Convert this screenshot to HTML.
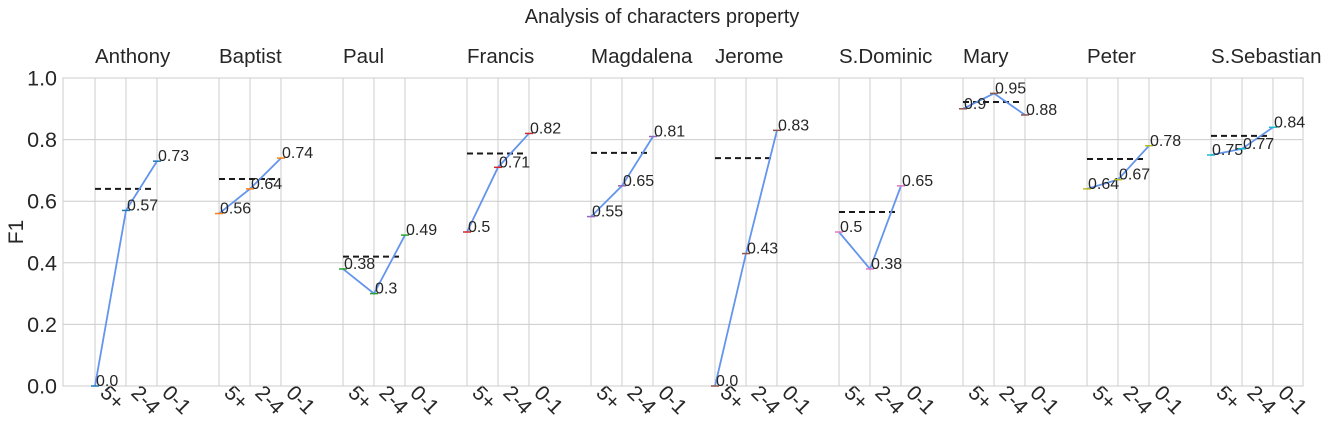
<!DOCTYPE html>
<html><head><meta charset="utf-8"><style>
html,body{margin:0;padding:0;background:#fff;}
svg{display:block;font-family:"Liberation Sans","DejaVu Sans",sans-serif;}
</style></head><body>
<svg id="chart" width="1325" height="432">
<text x="662" y="23" text-anchor="middle" font-size="20" fill="#262626">Analysis of characters property</text>
<text transform="translate(23,232) rotate(-90)" text-anchor="middle" font-size="21" fill="#262626">F1</text>
<g id="grid"></g><g id="marks"></g>
</svg>
<script>
const groups=["Anthony","Baptist","Paul","Francis","Magdalena","Jerome","S.Dominic","Mary","Peter","S.Sebastian"];
const cats=["5+","2-4","0-1"];
const v5=[0,0.56,0.38,0.5,0.55,0,0.5,0.9,0.64,0.75];
const v24=[0.57,0.64,0.3,0.71,0.65,0.43,0.38,0.95,0.67,0.77];
const v01=[0.73,0.74,0.49,0.82,0.81,0.83,0.65,0.88,0.78,0.84];
const refs=[0.64,0.672,0.42,0.755,0.757,0.74,0.565,0.922,0.737,0.812];
const labels5=["0.0","0.56","0.38","0.5","0.55","0.0","0.5","0.9","0.64","0.75"];
const labels24=["0.57","0.64","0.3","0.71","0.65","0.43","0.38","0.95","0.67","0.77"];
const labels01=["0.73","0.74","0.49","0.82","0.81","0.83","0.65","0.88","0.78","0.84"];
const yTicks=[0,0.2,0.4,0.6,0.8,1.0];
const colors=["#1f77b4","#ff7f0e","#2ca02c","#d62728","#9467bd","#8c564b","#e377c2","#8c564b","#bcbd22","#17becf"];
const NS="http://www.w3.org/2000/svg";
const L=63,R=1303,T=78,B=386;
const y=v=>B-(B-T)*v;
const x=(g,k)=>95+124*g+31*k;
const grid=document.getElementById('grid'),marks=document.getElementById('marks');
function el(p,t,a){const e=document.createElementNS(NS,t);for(const k in a)e.setAttribute(k,a[k]);p.appendChild(e);return e;}
yTicks.forEach(t=>{
  const l=el(grid,'line',{x1:L,x2:R,y1:y(t),y2:y(t),stroke:'#cccccc','stroke-width':1});
  
  
  const tx=el(grid,'text',{x:57,y:y(t)+7.5,'text-anchor':'end','font-size':21.5,fill:'#262626'});
  tx.textContent=t.toFixed(1);
  
  
});
groups.forEach((g,gi)=>{
  cats.forEach((c,k)=>{
    const l=el(grid,'line',{x1:x(gi,k),x2:x(gi,k),y1:T,y2:B,stroke:'#cccccc','stroke-width':1});
    
    
    const tx=el(grid,'text',{transform:`translate(${x(gi,k)+4},${B+8}) rotate(45)`,'font-size':21,fill:'#262626'});
    tx.textContent=c;
    
    
  });
  const gt=el(grid,'text',{x:x(gi,0),y:63,'font-size':20.5,fill:'#262626'});
  gt.textContent=g;
  
  
});
const frame=el(grid,'rect',{x:L,y:T,width:R-L,height:B-T,fill:'none',stroke:'#cccccc','stroke-width':1});


groups.forEach((g,gi)=>{
  const vals=[v5[gi],v24[gi],v01[gi]],labs=[labels5[gi],labels24[gi],labels01[gi]];
  const d=el(marks,'line',{x1:x(gi,0),x2:x(gi,2)-2,y1:y(refs[gi]),y2:y(refs[gi]),stroke:'#1a1a1a','stroke-width':2,'stroke-dasharray':'6,4'});
  
  
  const pl=el(marks,'polyline',{points:vals.map((v,k)=>x(gi,k)+','+y(v)).join(' '),fill:'none',stroke:'#6495ed','stroke-width':1.8});
  
  
  vals.forEach((v,k)=>{
    const m=el(marks,'line',{x1:x(gi,k)-4,x2:x(gi,k)+4,y1:y(v),y2:y(v),stroke:colors[gi],'stroke-width':1.5});
    
    
    const t=el(marks,'text',{x:x(gi,k)+1,y:y(v),'font-size':16,fill:'#262626'});
    t.textContent=labs[k];
    
    
  });
});
</script>
</body></html>
